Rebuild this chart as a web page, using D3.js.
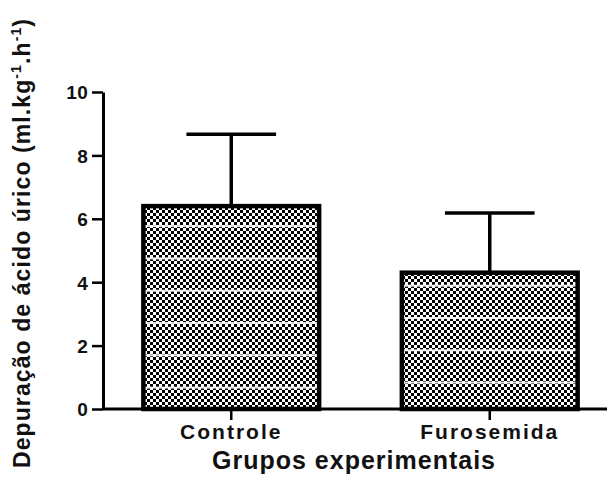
<!DOCTYPE html>
<html>
<head>
<meta charset="utf-8">
<script src="https://cdn.jsdelivr.net/npm/d3@7"></script>
<style>
  html, body { margin: 0; padding: 0; background: #fff; }
  svg { display: block; }
  text { font-family: "Liberation Sans", Arial, sans-serif; font-weight: bold; fill: #111; }
</style>
</head>
<body>
<svg id="chart" width="607" height="485"></svg>
<script>
// Uric acid clearance by experimental group (mean + upper SD)
const categories = ["Controle", "Furosemida"];
const means = [6.4, 4.3];
const sds = [2.27, 1.88];
const yTicks = [0, 2, 4, 6, 8, 10];
const yTitle = "Depuração de ácido úrico (ml.kg";
const xTitle = "Grupos experimentais";

const svg = d3.select("#chart");
const W = 607, H = 485;

const y = d3.scaleLinear().domain([0, 10]).range([409, 92]);
const x = d3.scaleBand()
  .domain(categories)
  .range([102, 619])
  .paddingInner(0.32)
  .paddingOuter(0.16);

// Fill patterns: fine checkerboard plus faint white banding
const defs = svg.append("defs");
const checker = defs.append("pattern")
  .attr("id", "checker")
  .attr("patternUnits", "userSpaceOnUse")
  .attr("width", 6).attr("height", 6);
checker.append("rect").attr("width", 6).attr("height", 6).attr("fill", "#fff");
checker.append("rect").attr("x", 0).attr("y", 0).attr("width", 3).attr("height", 3).attr("fill", "#000");
checker.append("rect").attr("x", 3).attr("y", 3).attr("width", 3).attr("height", 3).attr("fill", "#000");

const bandOffsets = [19, 12];
categories.forEach((c, i) => {
  const p = defs.append("pattern")
    .attr("id", "band" + i)
    .attr("patternUnits", "userSpaceOnUse")
    .attr("width", 40).attr("height", 32.3)
    .attr("patternTransform", `translate(0,${y(means[i]) + bandOffsets[i]})`);
  p.append("rect").attr("x", 0).attr("y", 0).attr("width", 40).attr("height", 2)
    .attr("fill", "#fff").attr("opacity", 0.9);
});

// Error bars (upper only)
const err = svg.append("g").attr("stroke", "#000").attr("stroke-width", 3.5);
categories.forEach((c, i) => {
  const cx = x(c) + x.bandwidth() / 2;
  const half = x.bandwidth() * 0.255;
  err.append("line")
    .attr("x1", cx).attr("x2", cx)
    .attr("y1", y(means[i])).attr("y2", y(means[i] + sds[i]));
  err.append("line")
    .attr("x1", cx - half).attr("x2", cx + half)
    .attr("y1", y(means[i] + sds[i])).attr("y2", y(means[i] + sds[i]));
});

// Bars
const bars = svg.append("g");
categories.forEach((c, i) => {
  const bx = x(c), bw = x.bandwidth(), by = y(means[i]), bh = y(0) - y(means[i]);
  bars.append("rect").attr("x", bx).attr("y", by).attr("width", bw).attr("height", bh)
    .attr("fill", "url(#checker)");
  bars.append("rect").attr("x", bx).attr("y", by).attr("width", bw).attr("height", bh)
    .attr("fill", `url(#band${i})`);
  bars.append("rect").attr("x", bx).attr("y", by).attr("width", bw).attr("height", bh)
    .attr("fill", "none").attr("stroke", "#000").attr("stroke-width", 4.5);
});

// Y axis
const yAxis = svg.append("g")
  .attr("transform", "translate(103,0)")
  .call(d3.axisLeft(y).tickValues(yTicks).tickFormat(d3.format("d")).tickSize(11).tickSizeOuter(0).tickPadding(4));
yAxis.select(".domain").attr("stroke", "#000").attr("stroke-width", 3);
yAxis.selectAll(".tick line").attr("stroke", "#000").attr("stroke-width", 2.5);
yAxis.selectAll(".tick text")
  .style("font-family", "'Liberation Sans', Arial, sans-serif")
  .style("font-weight", "bold").style("font-size", "19px").attr("fill", "#111")
  .attr("letter-spacing", 0.3).attr("dy", "0.36em");

// X axis
const xAxis = svg.append("g")
  .attr("transform", `translate(0,${y(0)})`)
  .call(d3.axisBottom(x).tickSize(11).tickSizeOuter(0).tickPadding(4));
xAxis.select(".domain").attr("stroke", "#000").attr("stroke-width", 3)
  .attr("d", `M103,0H${W}`);
xAxis.selectAll(".tick line").attr("stroke", "#000").attr("stroke-width", 2.5);
xAxis.selectAll(".tick text")
  .style("font-family", "'Liberation Sans', Arial, sans-serif")
  .style("font-weight", "bold").style("font-size", "21px").attr("fill", "#111")
  .attr("letter-spacing", 2).attr("dy", "0.7em");

// Axis titles
svg.append("text")
  .attr("x", 354).attr("y", 469)
  .attr("text-anchor", "middle")
  .style("font-size", "25px")
  .attr("letter-spacing", 1.0)
  .text(xTitle);

const yt = svg.append("text")
  .attr("transform", "translate(30,243) rotate(-90)")
  .attr("text-anchor", "middle")
  .style("font-size", "23px")
  .attr("letter-spacing", 1.1);
yt.append("tspan").text(yTitle);
yt.append("tspan").attr("dy", -9).style("font-size", "14px").text("-1");
yt.append("tspan").attr("dy", 9).text(".h");
yt.append("tspan").attr("dy", -9).style("font-size", "14px").text("-1");
yt.append("tspan").attr("dy", 9).text(")");
</script>
</body>
</html>
